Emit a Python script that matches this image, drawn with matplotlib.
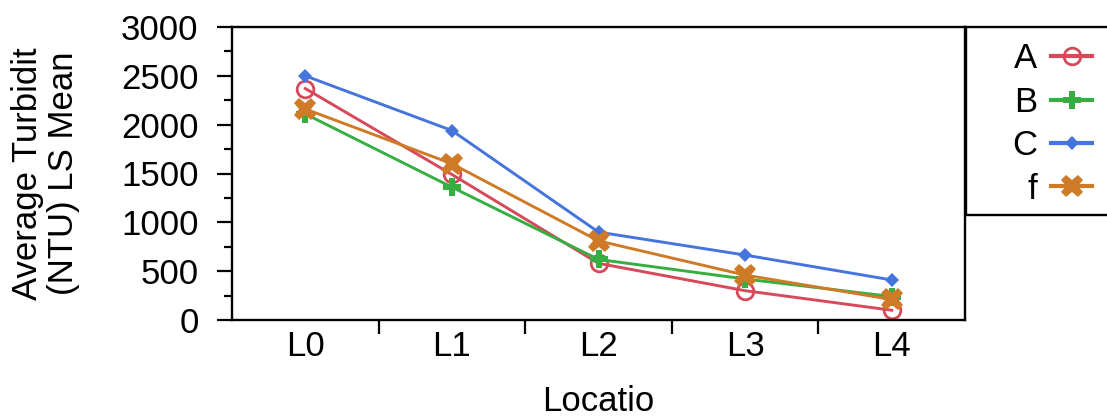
import numpy as np
import matplotlib
matplotlib.use('Agg')
import matplotlib.pyplot as plt
from matplotlib.patches import Rectangle

plt.rcParams['font.family'] = ['Liberation Sans', 'DejaVu Sans']

# location categories and LS means per group
locations = ['L0', 'L1', 'L2', 'L3', 'L4']
mean_a = [2370, 1490, 580, 300, 100]
mean_b = [2110, 1360, 620, 420, 240]
mean_c = [2500, 1940, 900, 665, 410]
mean_f = [2160, 1600, 810, 460, 210]

series = [
    ('A', mean_a, '#d6495a', 'o', dict(markerfacecolor='none', markersize=12, markeredgewidth=2.0)),
    ('B', mean_b, '#36ae42', 'P', dict(markersize=13, markeredgewidth=0)),
    ('C', mean_c, '#4474dc', 'D', dict(markersize=7, markeredgewidth=0)),
    ('f', mean_f, '#cf7a26', 'X', dict(markersize=16, markeredgewidth=0)),
]

fs = 25

fig = plt.figure(figsize=(11.07, 4.2), dpi=100)
ax = fig.add_axes([232/1107, 100/420, 733/1107, 293/420])

x = np.arange(len(locations))
for name, vals, col, mk, kw in series:
    ax.plot(x, vals, color=col, lw=2.1, marker=mk, label=name, **kw)

ax.set_xlim(-0.5, len(locations) - 0.5)
ax.set_ylim(0, 3000)
ax.set_yticks(np.arange(0, 3001, 500))
ax.set_yticks(np.arange(250, 3000, 500), minor=True)
ax.set_xticks(x)
ax.set_xticklabels(locations)
ax.set_xticks(np.arange(0.5, len(locations) - 1, 1.0), minor=True)

ax.tick_params(axis='y', which='major', length=11, width=1.6, labelsize=fs, direction='out', pad=13)
ax.tick_params(axis='y', which='minor', length=6, width=1.6, direction='out')
ax.tick_params(axis='x', which='major', length=0, labelsize=fs, pad=7)
ax.tick_params(axis='x', which='minor', length=10, width=1.6, direction='out')

for sp in ax.spines.values():
    sp.set_linewidth(1.7)

ax.set_xlabel('Locatio', fontsize=fs, labelpad=16)
ax.set_ylabel('Average Turbidit\n(NTU) LS Mean', fontsize=fs, labelpad=30, linespacing=1.08)

# legend: labels first, markers after, in a box hanging off the right side
leg = ax.legend(loc='upper left', frameon=False, markerfirst=False, fontsize=fs,
                handlelength=1.2, handletextpad=0.4, labelspacing=0.3, borderaxespad=0.0)
leg.set_bbox_to_anchor((1.045, 0.995), transform=ax.transAxes)
for h in leg.get_lines():
    h.set_linewidth(3.0)
box = Rectangle((966/1107, (420-215)/420), 180/1107, 188/420, transform=fig.transFigure,
                fill=False, edgecolor='black', linewidth=1.7, clip_on=False)
fig.add_artist(box)

fig.savefig('out.png', dpi=100)
